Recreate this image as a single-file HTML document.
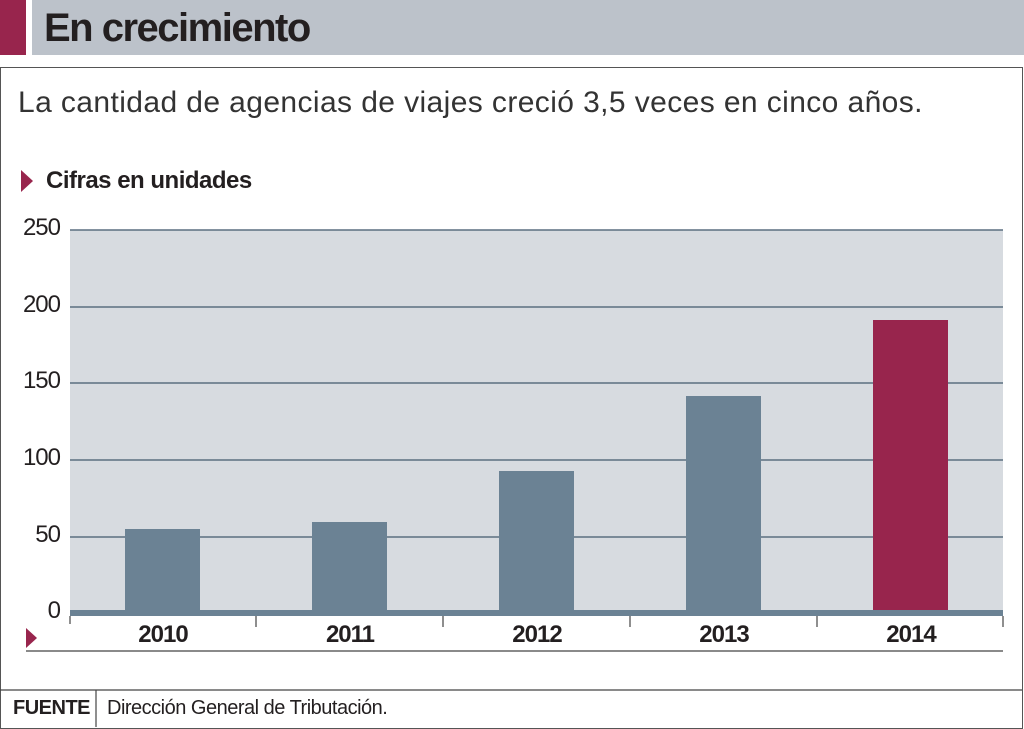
<!DOCTYPE html>
<html><head><meta charset="utf-8"><style>
body{margin:0;width:1024px;height:729px;background:#fff;position:relative;overflow:hidden;font-family:"Liberation Sans",sans-serif;color:#231f20}
div{position:absolute}
.t{font-size:24px;text-align:center;font-weight:bold;width:100px;letter-spacing:-1px}
.y{font-size:24px;left:15px;width:45px;text-align:right;letter-spacing:-1px}
</style></head><body>
<div style="left:0;top:0;width:26px;height:55px;background:#98254d"></div>
<div style="left:32px;top:0;width:992px;height:55px;background:#bcc2ca"></div>
<div style="left:44px;top:4px;font-size:40px;font-weight:bold;line-height:48px;letter-spacing:-1.5px">En crecimiento</div>
<div style="left:0;top:67px;width:1021px;height:660px;border:1px solid #555"></div>
<div style="left:18px;top:86px;font-size:30px;letter-spacing:0.4px;color:#333">La cantidad de agencias de viajes creció 3,5 veces en cinco años.</div>
<svg style="position:absolute;left:0;top:0" width="1024" height="729">
<polygon points="21,170 33,181 21,192" fill="#98254d"/>
<polygon points="26,628 37,638 26,648" fill="#98254d"/>
<rect x="70" y="230" width="933" height="383" fill="#d7dbe0"/>
<g stroke="#5c6f80" stroke-width="1.5">
<line x1="70" y1="230" x2="1003" y2="230"/><line x1="70" y1="307" x2="1003" y2="307"/>
<line x1="70" y1="383" x2="1003" y2="383"/><line x1="70" y1="460" x2="1003" y2="460"/>
<line x1="70" y1="537" x2="1003" y2="537"/></g>
<g fill="#6b8294">
<rect x="125" y="529" width="75" height="84"/><rect x="312" y="522" width="75" height="91"/>
<rect x="499" y="471" width="75" height="142"/><rect x="686" y="396" width="75" height="217"/></g>
<rect x="873" y="320" width="75" height="293" fill="#98254d"/>
<rect x="70" y="610" width="933" height="6" fill="#6b8294"/>
<g stroke="#444" stroke-width="1.2">
<line x1="70" y1="616" x2="70" y2="624"/><line x1="256" y1="616" x2="256" y2="627"/>
<line x1="443" y1="616" x2="443" y2="627"/><line x1="630" y1="616" x2="630" y2="627"/>
<line x1="817" y1="616" x2="817" y2="627"/><line x1="1003" y1="616" x2="1003" y2="627"/>
<line x1="26" y1="651" x2="1003" y2="651"/>
<line x1="0" y1="690" x2="1022" y2="690"/><line x1="96" y1="690" x2="96" y2="727"/></g>
</svg>
<div style="left:46px;top:167px;font-size:24px;font-weight:bold;letter-spacing:-0.5px">Cifras en unidades</div>
<div class="y" style="top:214px">250</div><div class="y" style="top:291px">200</div>
<div class="y" style="top:367px">150</div><div class="y" style="top:444px">100</div>
<div class="y" style="top:521px">50</div><div class="y" style="top:597px">0</div>
<div class="t" style="left:113px;top:621px">2010</div><div class="t" style="left:300px;top:621px">2011</div>
<div class="t" style="left:487px;top:621px">2012</div><div class="t" style="left:674px;top:621px">2013</div>
<div class="t" style="left:861px;top:621px">2014</div>
<div style="left:13px;top:697px;font-size:20px;font-weight:bold;letter-spacing:-0.5px">FUENTE</div>
<div style="left:107px;top:697px;font-size:20px;letter-spacing:-0.5px">Dirección General de Tributación.</div>
</body></html>
